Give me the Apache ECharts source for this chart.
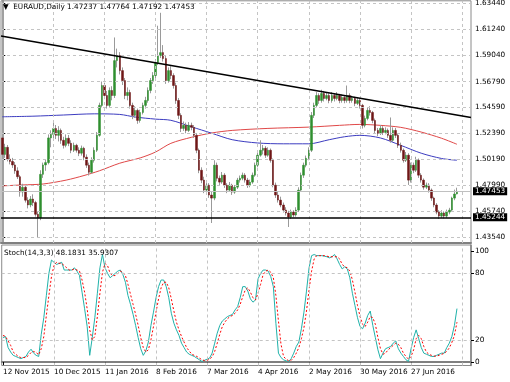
<!DOCTYPE html>
<html><head><meta charset="utf-8">
<script src="https://cdn.jsdelivr.net/npm/echarts@6/dist/echarts.min.js"></script>
<style>html,body{margin:0;padding:0;background:#fff}#c{width:510px;height:382px}</style>
</head><body><div id="c"></div>
<script>
// ---------- data ----------
const symbolName = 'EURAUD';
const timeframe = 'Daily';
const stochName = 'Stoch(14,3,3)';
const firstBar = [2015, 10, 12];            // 12 Nov 2015 (month 0-based)
const holidays = ['2015-12-25', '2016-01-01'];
const futureSlots = 5;                       // empty chart shift on the right
const yTicks = [1.43540, 1.45740, 1.47990, 1.50190, 1.52390, 1.54590, 1.56790, 1.59040, 1.61240, 1.63440];
const stochTicks = [0, 20, 80, 100];
const stochLevels = [20, 80];
const supportLevel = [1.45244];
const dateStep = 20;

const open = [1.5200,1.5060,1.5120,1.5020,1.5000,1.4970,1.4920,1.4870,1.4740,1.4780,
1.4670,1.4630,1.4680,1.4650,1.4550,1.4520,1.4890,1.4970,1.4990,1.5200,
1.5230,1.5280,1.5222,1.5264,1.5180,1.5137,1.5197,1.5154,1.5095,1.5137,
1.5095,1.5070,1.5112,1.5036,1.4968,1.4908,1.5010,1.5095,1.5222,1.5477,
1.5646,1.5561,1.5477,1.5604,1.5561,1.5858,1.5901,1.5773,1.5688,1.5561,
1.5587,1.5477,1.5392,1.5434,1.5349,1.5417,1.5477,1.5519,1.5604,1.5688,
1.5731,1.5841,1.5901,1.5926,1.5875,1.5688,1.5773,1.5731,1.5646,1.5519,
1.5392,1.5281,1.5307,1.5264,1.5307,1.5290,1.5222,1.5095,1.4925,1.4841,
1.4756,1.4798,1.4714,1.4688,1.4968,1.4857,1.4824,1.4883,1.4798,1.4756,
1.4798,1.4739,1.4781,1.4841,1.4857,1.4883,1.4841,1.4798,1.4824,1.4883,
1.4968,1.5053,1.5095,1.5112,1.5053,1.5095,1.5010,1.4798,1.4714,1.4671,
1.4629,1.4586,1.4561,1.4527,1.4569,1.4544,1.4586,1.4756,1.4883,1.4968,
1.5027,1.5095,1.5392,1.5477,1.5561,1.5519,1.5578,1.5536,1.5561,1.5519,
1.5561,1.5536,1.5561,1.5519,1.5544,1.5519,1.5561,1.5519,1.5536,1.5494,
1.5519,1.5477,1.5307,1.5366,1.5434,1.5417,1.5349,1.5264,1.5239,1.5281,
1.5247,1.5264,1.5222,1.5180,1.5264,1.5222,1.5137,1.5095,1.5010,1.5053,
1.4841,1.4968,1.4925,1.5010,1.4883,1.4841,1.4781,1.4798,1.4756,1.4688,
1.4629,1.4569,1.4535,1.4561,1.4535,1.4569,1.4586,1.4688,1.47237];

const high = [1.5240,1.5150,1.5140,1.5060,1.5030,1.4995,1.4950,1.4885,1.4810,1.4795,
1.4695,1.4705,1.4720,1.4665,1.4575,1.4925,1.4990,1.5015,1.5230,1.5265,
1.5340,1.5310,1.5300,1.5280,1.5210,1.5230,1.5225,1.5180,1.5160,1.5150,
1.5120,1.5135,1.5125,1.5060,1.4990,1.5035,1.5120,1.5250,1.5500,1.5680,
1.5670,1.5600,1.5630,1.5640,1.6055,1.5960,1.5930,1.5800,1.5710,1.5630,
1.5610,1.5500,1.5470,1.5450,1.5440,1.5500,1.5550,1.5630,1.5710,1.5760,
1.5870,1.6155,1.6265,1.5990,1.5900,1.5800,1.5810,1.5750,1.5670,1.5540,
1.5410,1.5340,1.5330,1.5335,1.5330,1.5310,1.5240,1.5110,1.4950,1.4870,
1.4830,1.4815,1.4740,1.5010,1.4990,1.4880,1.4910,1.4900,1.4815,1.4825,
1.4810,1.4800,1.4860,1.4880,1.4905,1.4900,1.4860,1.4845,1.4905,1.4990,
1.5075,1.5180,1.5140,1.5130,1.5120,1.5110,1.5025,1.4820,1.4740,1.4700,
1.4650,1.4610,1.4580,1.4590,1.4585,1.4610,1.4780,1.4905,1.4990,1.5050,
1.5120,1.5420,1.5500,1.5590,1.5580,1.5610,1.5600,1.5590,1.5580,1.5590,
1.5580,1.5590,1.5575,1.5570,1.5560,1.5646,1.5580,1.5560,1.5550,1.5545,
1.5535,1.5490,1.5390,1.5460,1.5470,1.5430,1.5365,1.5285,1.5310,1.5300,
1.5290,1.5280,1.5374,1.5290,1.5285,1.5240,1.5160,1.5110,1.5080,1.5070,
1.4990,1.4990,1.5040,1.5025,1.4900,1.4855,1.4820,1.4815,1.4770,1.4700,
1.4645,1.4585,1.4585,1.4575,1.4590,1.4605,1.4700,1.4760,1.47764];

const low = [1.5040,1.5030,1.5000,1.4975,1.4945,1.4895,1.4850,1.4700,1.4700,1.4650,
1.4600,1.4610,1.4620,1.4530,1.4350,1.4500,1.4860,1.4920,1.4975,1.5120,
1.5190,1.5190,1.5170,1.5150,1.5110,1.5120,1.5130,1.5070,1.5080,1.5075,
1.5045,1.5050,1.5010,1.4945,1.4880,1.4895,1.4990,1.5080,1.5210,1.5460,
1.5530,1.5450,1.5460,1.5520,1.5540,1.5800,1.5740,1.5650,1.5530,1.5520,
1.5450,1.5360,1.5370,1.5320,1.5330,1.5400,1.5450,1.5500,1.5580,1.5660,
1.5710,1.5820,1.5880,1.5850,1.5660,1.5670,1.5700,1.5620,1.5490,1.5360,
1.5250,1.5260,1.5240,1.5250,1.5265,1.5200,1.5070,1.4900,1.4815,1.4730,
1.4740,1.4690,1.4476,1.4670,1.4830,1.4800,1.4810,1.4775,1.4730,1.4740,
1.4715,1.4725,1.4765,1.4820,1.4840,1.4820,1.4775,1.4780,1.4810,1.4870,
1.4950,1.5040,1.5060,1.5030,1.5040,1.4990,1.4780,1.4690,1.4650,1.4610,
1.4565,1.4540,1.4442,1.4510,1.4525,1.4530,1.4570,1.4740,1.4860,1.4950,
1.5010,1.5080,1.5370,1.5460,1.5490,1.5500,1.5510,1.5520,1.5495,1.5500,
1.5510,1.5520,1.5495,1.5500,1.5495,1.5500,1.5495,1.5500,1.5470,1.5480,
1.5450,1.5280,1.5290,1.5350,1.5390,1.5325,1.5240,1.5215,1.5225,1.5225,
1.5230,1.5200,1.5160,1.5165,1.5200,1.5115,1.5075,1.4990,1.4995,1.4800,
1.4820,1.4900,1.4910,1.4860,1.4820,1.4760,1.4765,1.4735,1.4665,1.4610,
1.4550,1.4510,1.4520,1.4515,1.4520,1.4550,1.4570,1.4670,1.47192];

const close = [1.5060,1.5120,1.5020,1.5000,1.4970,1.4920,1.4870,1.4740,1.4780,1.4670,
1.4630,1.4680,1.4650,1.4550,1.4520,1.4890,1.4970,1.4990,1.5200,1.5230,
1.5280,1.5222,1.5264,1.5180,1.5137,1.5197,1.5154,1.5095,1.5137,1.5095,
1.5070,1.5112,1.5036,1.4968,1.4908,1.5010,1.5095,1.5222,1.5477,1.5646,
1.5561,1.5477,1.5604,1.5561,1.5858,1.5901,1.5773,1.5688,1.5561,1.5587,
1.5477,1.5392,1.5434,1.5349,1.5417,1.5477,1.5519,1.5604,1.5688,1.5731,
1.5841,1.5901,1.5926,1.5875,1.5688,1.5773,1.5731,1.5646,1.5519,1.5392,
1.5281,1.5307,1.5264,1.5307,1.5290,1.5222,1.5095,1.4925,1.4841,1.4756,
1.4798,1.4714,1.4688,1.4968,1.4857,1.4824,1.4883,1.4798,1.4756,1.4798,
1.4739,1.4781,1.4841,1.4857,1.4883,1.4841,1.4798,1.4824,1.4883,1.4968,
1.5053,1.5095,1.5112,1.5053,1.5095,1.5010,1.4798,1.4714,1.4671,1.4629,
1.4586,1.4561,1.4527,1.4569,1.4544,1.4586,1.4756,1.4883,1.4968,1.5027,
1.5095,1.5392,1.5477,1.5561,1.5519,1.5578,1.5536,1.5561,1.5519,1.5561,
1.5536,1.5561,1.5519,1.5544,1.5519,1.5561,1.5519,1.5536,1.5494,1.5519,
1.5477,1.5307,1.5366,1.5434,1.5417,1.5349,1.5264,1.5239,1.5281,1.5247,
1.5264,1.5222,1.5180,1.5264,1.5222,1.5137,1.5095,1.5010,1.5053,1.4841,
1.4968,1.4925,1.5010,1.4883,1.4841,1.4781,1.4798,1.4756,1.4688,1.4629,
1.4569,1.4535,1.4561,1.4535,1.4569,1.4586,1.4688,1.4723,1.47453];

// moving averages: [bar index, value]
const maBlue = [[0,1.5380],[12,1.5385],[24,1.5395],[36,1.5405],[46,1.5400],[52,1.5378],[60,1.5360],[66,1.5350],[74,1.5295],[82,1.5240],[90,1.5185],[100,1.5157],[110,1.5150],[120,1.5150],[128,1.5185],[134,1.5210],[140,1.5222],[148,1.5200],[156,1.5137],[164,1.5070],[172,1.5025],[178,1.5010]];
const maRed = [[0,1.4792],[8,1.4800],[16,1.4808],[25,1.4841],[32,1.4880],[38,1.4920],[46,1.4985],[54,1.5030],[60,1.5080],[66,1.5154],[74,1.5205],[82,1.5242],[90,1.5264],[104,1.5281],[120,1.5292],[132,1.5307],[140,1.5315],[148,1.5307],[156,1.5290],[164,1.5250],[172,1.5197],[178,1.5146]];
// trend line anchors: [bar index, price]
const trendLine = [[-0.5,1.6068],[183.5,1.5374]];

const stochK = [22,23,13,9,6,5,4,3,4,5,
9,11.5,8,6,5,25,40,60,80,92,
90,88,89,90,83,83,83,83,85,82,
78,63,48,32,6,22,40,62,85,97,
85,80,76,78,80,82,83,79,72,60,
52,43,33,22,12,6,10,18,33,45,
58,68,74,74,68,58,44,35,29,24,
17,13,9,7,6,5,3.5,2,0.5,1.5,
2.5,3.5,8,17,26,33,37,39,41,42,
43,47,50,58,68,68,64,57,54,56,
75,80,83,83,82,77,68,35,8,4,
2,1,0.5,3,8,14,18,30,45,64,
85,96,97,96,96,96,95.5,95,94,95,
97,93,88,84,86,84,76,62,51,40,
32,30,35,42,46,33,22,11,3,8,
12,13,14,17,19,12,8,5,2,0.5,
12,22,29,21,13,8,7,6,5,5,
6,7,8,8,13,17,23,33,48.1831];

const stochD = [24,23,19,15,9,7,5,4,4,4,
6,8.5,9.5,8.5,6.5,12,23,42,60,77,
87,90,89,89,87,85,83,83,84,83,
82,74,63,48,29,20,23,41,62,81,
89,87,80,78,78,80,82,81,78,70,
61,52,43,33,22,13,9,11,20,32,
45,57,67,72,72,67,57,46,36,29,
23,18,13,10,7,6,5,3.5,2,1.3,
1.5,2.5,4.7,9.5,17,25,32,36,39,41,
42,44,47,52,59,65,67,63,58,56,
62,70,79,82,83,81,76,60,37,16,
5,2.5,1.2,1.5,4,8,13,21,31,46,
65,82,93,96,96,96,96,95.5,95,95,
95,95,93,88,86,85,82,74,63,51,
41,34,32,36,41,40,34,22,12,7,
8,11,13,15,17,16,13,8,5,2.5,
5,11,21,24,21,14,9,7,6,5.3,
5.3,6,7,7.7,9.7,12.7,17.7,24,35.9307];

// ---------- build ----------
const MONTHS = ['Jan','Feb','Mar','Apr','May','Jun','Jul','Aug','Sep','Oct','Nov','Dec'];
function buildDates(n) {
  const out = [];
  let t = Date.UTC(firstBar[0], firstBar[1], firstBar[2]);
  while (out.length < n) {
    const d = new Date(t);
    const wd = d.getUTCDay();
    const iso = d.toISOString().slice(0, 10);
    if (wd !== 0 && wd !== 6 && holidays.indexOf(iso) < 0) {
      out.push(d.getUTCDate() + ' ' + MONTHS[d.getUTCMonth()] + ' ' + d.getUTCFullYear());
    }
    t += 86400000;
  }
  return out;
}
const nBars = close.length;
const dates = buildDates(nBars + futureSlots);
const last = nBars - 1;

const wickData = close.map((c, i) => [open[i], c, low[i], high[i]]);
const bodyData = close.map((c, i) => [open[i], c, Math.min(open[i], c), Math.max(open[i], c)]);
const vLines = [];
for (let i = dateStep; i < dates.length; i += dateStep) vLines.push({ xAxis: i });
const labelShown = (idx) => idx % dateStep === 0 && idx <= nBars - dateStep / 2;

const FONT = '"DejaVu Sans", Verdana, sans-serif';
const FS = 7.3;
const gridDash = { color: '#c4c4c4', width: 1, type: [3, 3] };
const txt = { fontFamily: FONT, fontSize: FS, color: '#000' };
const boxLabel = Object.assign({ show: true, position: 'end', distance: 2,
  formatter: p => Number(p.value).toFixed(5), backgroundColor: '#000', padding: [1, 2, 0, 2] }, txt, { color: '#fff' });

const chart = echarts.init(document.getElementById('c'), null, { renderer: 'canvas' });
chart.setOption({
  animation: false,
  backgroundColor: '#ffffff',
  title: [
    { text: '\u25BC  ' + symbolName + ',' + timeframe + ' ' + open[last].toFixed(5) + ' ' + high[last].toFixed(5) + ' ' + low[last].toFixed(5) + ' ' + close[last].toFixed(5),
      left: 3, top: 3, padding: 0, textStyle: Object.assign({ fontWeight: 'normal', lineHeight: 9 }, txt) },
    { text: stochName + ' ' + stochK[last].toFixed(4) + ' ' + stochD[last].toFixed(4),
      left: 4, top: 249, padding: 0, textStyle: Object.assign({ fontWeight: 'normal', lineHeight: 9 }, txt) }
  ],
  grid: [
    { left: 1, top: 0, width: 470, height: 243, show: true, borderColor: '#8a8a8a', borderWidth: 1 },
    { left: 1, top: 245, width: 470, height: 120.5, show: true, borderColor: '#8a8a8a', borderWidth: 1 }
  ],
  xAxis: [
    { type: 'category', gridIndex: 0, data: dates, boundaryGap: true,
      axisLine: { show: true, lineStyle: { color: '#808080', width: 2 } },
      axisTick: { show: false }, axisLabel: { show: false }, splitLine: { show: false } },
    { type: 'category', gridIndex: 1, data: dates, boundaryGap: true,
      axisLine: { show: true, lineStyle: { color: '#808080', width: 2 } },
      axisTick: { show: true, alignWithLabel: true, interval: labelShown, length: 3, lineStyle: { color: '#000' } },
      axisLabel: Object.assign({ interval: labelShown, align: 'left', margin: 3 }, txt),
      splitLine: { show: false } },
    { type: 'value', gridIndex: 0, min: -0.5, max: dates.length - 0.5, show: false }
  ],
  yAxis: [
    { type: 'value', gridIndex: 0, position: 'right', min: 1.43058, max: 1.63669,
      axisLine: { show: true, lineStyle: { color: '#808080', width: 1.5 } },
      axisTick: { show: true, customValues: yTicks, length: 3, lineStyle: { color: '#000' } },
      axisLabel: Object.assign({ customValues: yTicks, margin: 4, formatter: v => Number(v).toFixed(5) }, txt),
      splitLine: { show: false } },
    { type: 'value', gridIndex: 1, position: 'right', min: -3.17, max: 105.6,
      axisLine: { show: true, lineStyle: { color: '#808080', width: 1.5 } },
      axisTick: { show: true, customValues: stochTicks, length: 3, lineStyle: { color: '#000' } },
      axisLabel: Object.assign({ customValues: stochTicks, margin: 4, formatter: v => String(Math.round(v)) }, txt),
      splitLine: { show: false } }
  ],
  series: [
    { type: 'line', xAxisIndex: 0, yAxisIndex: 0, data: [], z: 1, silent: true,
      markLine: { silent: true, symbol: 'none', animation: false, precision: 5, label: { show: false }, lineStyle: gridDash,
        data: yTicks.map(v => ({ yAxis: v })).concat(vLines) } },
    { type: 'line', xAxisIndex: 1, yAxisIndex: 1, data: [], z: 1, silent: true,
      markLine: { silent: true, symbol: 'none', animation: false, label: { show: false }, lineStyle: gridDash,
        data: stochLevels.map(v => ({ yAxis: v })).concat(vLines) } },
    { type: 'line', xAxisIndex: 0, yAxisIndex: 0, data: [], z: 2, silent: true,
      markLine: { silent: true, symbol: 'none', animation: false, precision: 5,
        data: [{ yAxis: close[last], lineStyle: { color: '#c0c0c0', width: 1, type: 'solid' }, label: boxLabel }] } },
    { name: 'MA red', type: 'line', xAxisIndex: 0, yAxisIndex: 0, data: maRed, smooth: 0.3, symbol: 'none', z: 2, silent: true,
      lineStyle: { color: '#e04848', width: 1 } },
    { name: 'MA blue', type: 'line', xAxisIndex: 0, yAxisIndex: 0, data: maBlue, smooth: 0.3, symbol: 'none', z: 2, silent: true,
      lineStyle: { color: '#3c3cc0', width: 1 } },
    { name: 'wicks', type: 'candlestick', xAxisIndex: 0, yAxisIndex: 0, data: wickData, barWidth: 1, z: 3, silent: true,
      itemStyle: { color: '#9a9a9a', color0: '#9a9a9a', borderColor: '#9a9a9a', borderColor0: '#9a9a9a', borderWidth: 1 } },
    { name: 'bodies', type: 'candlestick', xAxisIndex: 0, yAxisIndex: 0, data: bodyData, barWidth: 2, z: 4, silent: true,
      itemStyle: { color: '#2f8f2f', color0: '#6e1616', borderColor: '#2f8f2f', borderColor0: '#6e1616', borderWidth: 0.5 } },
    { name: 'trend', type: 'line', xAxisIndex: 2, yAxisIndex: 0, data: trendLine, symbol: 'none', z: 5, silent: true,
      lineStyle: { color: '#000', width: 1.5 } },
    { type: 'line', xAxisIndex: 0, yAxisIndex: 0, data: [], z: 5, silent: true,
      markLine: { silent: true, symbol: 'none', animation: false, precision: 5,
        data: supportLevel.map(v => ({ yAxis: v, lineStyle: { color: '#000', width: 1.5, type: 'solid' }, label: boxLabel })) } },
    { name: 'K', type: 'line', xAxisIndex: 1, yAxisIndex: 1, data: stochK, symbol: 'none', z: 3, silent: true,
      lineStyle: { color: '#20b2aa', width: 1 } },
    { name: 'D', type: 'line', xAxisIndex: 1, yAxisIndex: 1, data: stochD, symbol: 'none', z: 3, silent: true,
      lineStyle: { color: '#ff0000', width: 1, type: [2, 2] } }
  ]
});
</script>
</body></html>
